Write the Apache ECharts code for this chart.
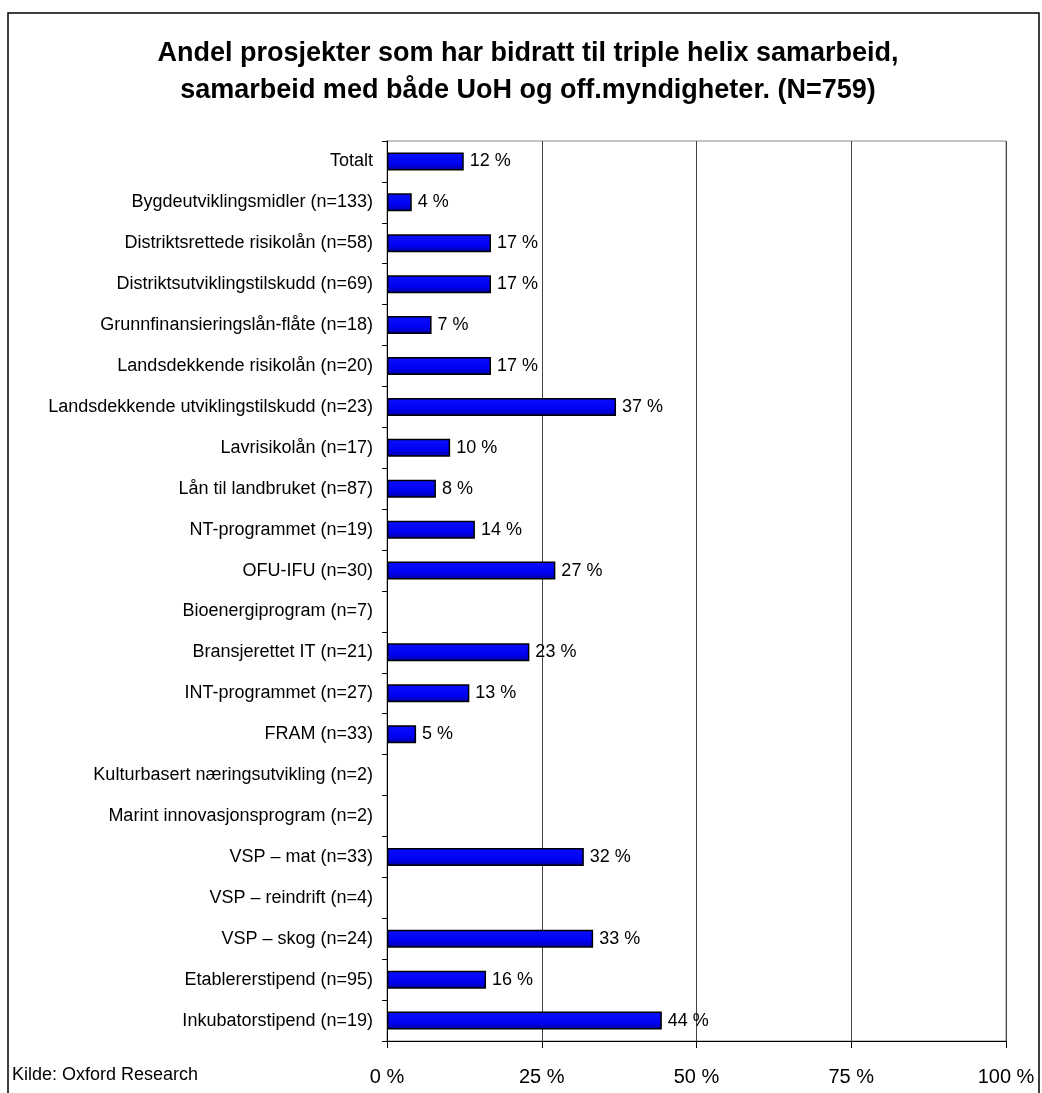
<!DOCTYPE html>
<html>
<head>
<meta charset="utf-8">
<script src="https://cdn.jsdelivr.net/npm/echarts@6/dist/echarts.min.js"></script>
<style>
  html, body { margin: 0; padding: 0; background: #fff; }
  #chart { width: 1042px; height: 1093px; }
</style>
</head>
<body>
<div id="chart"></div>
<script>
// categories top to bottom, as in the picture
var categories = [
  "Totalt",
  "Bygdeutviklingsmidler (n=133)",
  "Distriktsrettede risikolån (n=58)",
  "Distriktsutviklingstilskudd (n=69)",
  "Grunnfinansieringslån-flåte (n=18)",
  "Landsdekkende risikolån (n=20)",
  "Landsdekkende utviklingstilskudd (n=23)",
  "Lavrisikolån (n=17)",
  "Lån til landbruket (n=87)",
  "NT-programmet (n=19)",
  "OFU-IFU (n=30)",
  "Bioenergiprogram (n=7)",
  "Bransjerettet IT (n=21)",
  "INT-programmet (n=27)",
  "FRAM (n=33)",
  "Kulturbasert næringsutvikling (n=2)",
  "Marint innovasjonsprogram (n=2)",
  "VSP – mat (n=33)",
  "VSP – reindrift (n=4)",
  "VSP – skog (n=24)",
  "Etablererstipend (n=95)",
  "Inkubatorstipend (n=19)"
];
// share in percent
var shares = [
  12.4, 4.0, 16.8, 16.8, 7.2, 16.8, 37.0, 10.2, 7.9, 14.2, 27.2,
  0, 23.0, 13.3, 4.7, 0, 0, 31.8, 0, 33.3, 16.0, 44.4
];
var xTicks = [0, 25, 50, 75, 100];

var FONT = "Liberation Sans, Arial, sans-serif";
var chart = echarts.init(document.getElementById("chart"));

// empty categories get no outline at all
var barData = shares.map(function (v) {
  return v > 0 ? v : { value: v, itemStyle: { borderWidth: 0, opacity: 0 } };
});

var option = {
  backgroundColor: "#fff",
  animation: false,
  textStyle: { fontFamily: FONT },
  title: {
    text: "Andel prosjekter som har bidratt til triple helix samarbeid,\nsamarbeid med både UoH og off.myndigheter. (N=759)",
    left: 523,
    textAlign: "center",
    top: 30,
    textStyle: {
      fontSize: 27,
      fontWeight: "bold",
      color: "#000",
      lineHeight: 37,
      fontFamily: FONT
    }
  },
  graphic: [
    {
      type: "rect",
      shape: { x: 8, y: 13, width: 1031, height: 1100 },
      style: { fill: "none", stroke: "#000", lineWidth: 1.5 },
      silent: true
    },
    {
      type: "text",
      left: 12,
      top: 1066,
      style: {
        text: "Kilde: Oxford Research",
        fill: "#000",
        font: "18px " + FONT
      }
    }
  ],
  grid: {
    left: 387,
    right: 36,
    top: 141,
    bottom: 52,
    show: true,
    borderColor: "#888",
    borderWidth: 1
  },
  xAxis: {
    type: "value",
    min: xTicks[0],
    max: xTicks[xTicks.length - 1],
    interval: 25,
    axisLine: { show: true, lineStyle: { color: "#000", width: 1 } },
    axisTick: { show: true, length: 7, lineStyle: { color: "#000" } },
    axisLabel: {
      formatter: function (v) { return v + " %"; },
      fontSize: 20,
      color: "#000",
      margin: 26
    },
    splitLine: { show: true, lineStyle: { color: "#444", width: 1 } }
  },
  yAxis: {
    type: "category",
    data: categories,
    inverse: true,
    axisLine: { show: true, lineStyle: { color: "#000", width: 1 } },
    axisTick: { show: true, inside: false, length: 5, lineStyle: { color: "#000" } },
    axisLabel: { fontSize: 18, color: "#000", margin: 14 }
  },
  series: [
    {
      type: "bar",
      data: barData,
      barWidth: 18,
      itemStyle: {
        color: new echarts.graphic.LinearGradient(0, 0, 0, 1, [
          { offset: 0, color: "#0a10ff" },
          { offset: 0.65, color: "#0000f0" },
          { offset: 1, color: "#00009a" }
        ]),
        borderColor: "#000",
        borderWidth: 1.5
      },
      label: {
        show: true,
        position: "right",
        distance: 6,
        fontSize: 18,
        color: "#000",
        formatter: function (p) {
          return p.value > 0 ? Math.round(p.value) + " %" : "";
        }
      }
    }
  ]
};

chart.setOption(option);
</script>
</body>
</html>
